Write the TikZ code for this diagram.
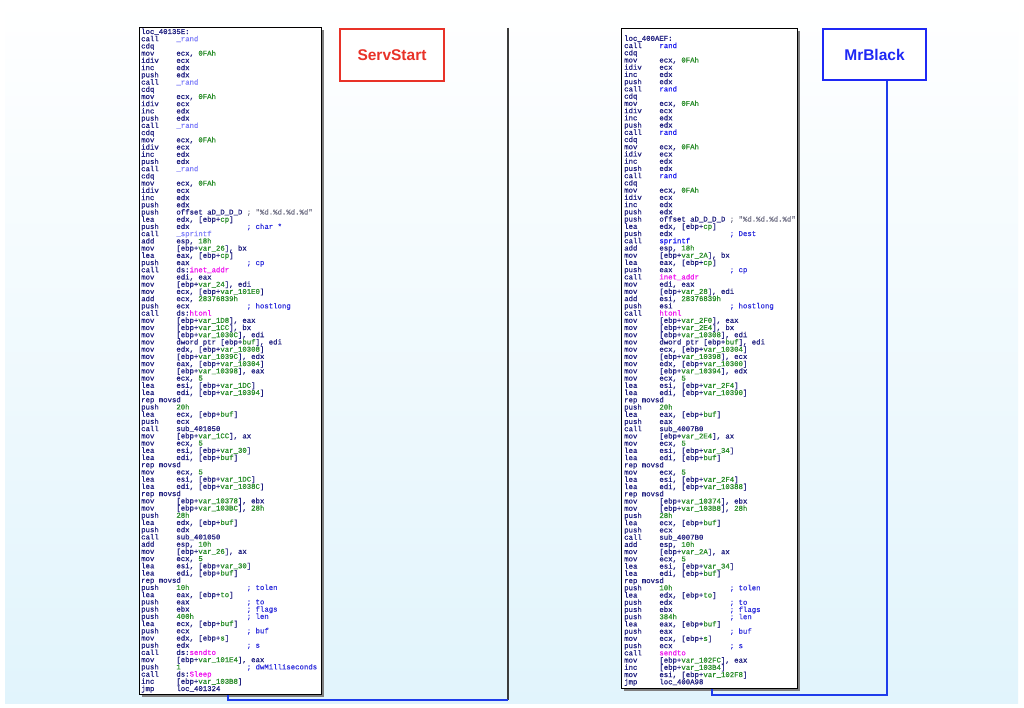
\documentclass[tikz,border=0pt]{standalone}
\usepackage{fontspec}
\usetikzlibrary{shadows}
\setmainfont{Liberation Sans}
\newfontfamily\xmono[FakeBold=0.7]{Liberation Mono}
\newfontfamily\xlabel{Liberation Sans}
\definecolor{insn}{RGB}{32,32,128}
\definecolor{numc}{RGB}{40,140,40}
\definecolor{varc}{RGB}{40,140,40}
\definecolor{cmtc}{RGB}{50,50,220}
\definecolor{libc}{RGB}{128,128,250}
\definecolor{fnc}{RGB}{30,30,240}
\definecolor{impc}{RGB}{240,20,240}
\definecolor{strc}{RGB}{120,120,140}
\definecolor{bgblue}{RGB}{225,244,252}
\definecolor{servred}{RGB}{232,50,40}
\definecolor{blackblue}{RGB}{30,40,245}
\definecolor{edgeblue}{RGB}{30,60,235}
\definecolor{darkedge}{RGB}{60,60,60}
\newlength\xcw
\newcommand\xcode[1]{\xmono\fontsize{7.33pt}{#1}\selectfont\lineskiplimit=-20pt\lineskip=0pt\settowidth\xcw{0}}
\newcommand\xV[1]{\textcolor{varc}{#1}}
\newcommand\xN[1]{\textcolor{numc}{#1}}
\newcommand\xC[1]{\textcolor{cmtc}{#1}}
\newcommand\xS[1]{\textcolor{strc}{#1}}
\newcommand\xF[1]{\textcolor{fnc}{#1}}
\newcommand\xI[1]{\textcolor{impc}{#1}}
\newcommand\xB[1]{\textcolor{libc}{#1}}
\newcommand\xH[1]{\hbox{#1}}
\newcommand\xL[2]{\hbox{\makebox[8\xcw][l]{#1}#2}}
\newcommand\xLc[3]{\hbox{\makebox[8\xcw][l]{#1}\makebox[16\xcw][l]{#2}#3}}
\newcommand\xRand[1]{\xL{call}{#1}\xL{cdq}{}\xL{mov}{ecx, \xN{0FAh}}\xL{idiv}{ecx}\xL{inc}{edx}\xL{push}{edx}}
\tikzset{
  listbox/.style={draw=black, line width=0.7pt, fill=white, inner sep=0pt, anchor=north west,
    drop shadow={shadow xshift=2.5pt, shadow yshift=-2.5pt, fill=black!50, opacity=1}},
  codetext/.style={anchor=base west, inner sep=0pt, text=insn},
  labelbox/.style={line width=2pt, fill=white, inner sep=0pt, font=\xlabel\bfseries\fontsize{15.5pt}{18pt}\selectfont},
  edgeline/.style={draw=edgeblue, line width=1.5pt},
  backline/.style={draw=darkedge, line width=1.6pt}
}
\begin{document}
\begin{tikzpicture}[x=1pt,y=-1pt]
\useasboundingbox (0,0) rectangle (1024,708);
\fill[white] (0,0) rectangle (1024,708);
\shade[top color=white, bottom color=bgblue] (5,0) rectangle (1018,703);

% back connector lines
\coordinate (ltop) at (508,28);
\coordinate (lcorner) at (508,700);
\coordinate (lturn) at (228,700);
\coordinate (rturn) at (712,695);
\coordinate (rcorner) at (887,695);

\draw[backline] (ltop) -- (lcorner);

% listing boxes
\node[listbox, minimum width=182pt, minimum height=667pt] (servbox) at (139,27) {};
\node[listbox, minimum width=176pt, minimum height=660pt] (blackbox) at (621,28) {};

\draw[edgeline] (servbox.south -| lturn) -- (lturn) -- (lcorner);

% label boxes
\node[labelbox, draw=servred, text=servred, minimum width=104pt, minimum height=52pt] (servstart) at (392,55) {ServStart};
\node[labelbox, draw=blackblue, text=blackblue, minimum width=103pt, minimum height=51pt] (mrblack) at (874.5,54.5) {MrBlack};

\draw[edgeline] (blackbox.south -| rturn) -- (rturn) -- (rcorner) -- (mrblack.south -| rcorner);

% left code
\node[codetext] (servcode) at (141,34) {\vtop{\xcode{7.22pt}
\xH{loc\_40135E:}
\xRand{\xB{\_rand}}
\xRand{\xB{\_rand}}
\xRand{\xB{\_rand}}
\xRand{\xB{\_rand}}
\xLc{push}{offset aD\_D\_D\_D}{\xS{; "\%d.\%d.\%d.\%d"}}
\xL{lea}{edx, [ebp+\xV{cp}]}
\xLc{push}{edx}{\xC{; char *}}
\xL{call}{\xB{\_sprintf}}
\xL{add}{esp, \xN{18h}}
\xL{mov}{[ebp+\xV{var\_26}], bx}
\xL{lea}{eax, [ebp+\xV{cp}]}
\xLc{push}{eax}{\xC{; cp}}
\xL{call}{ds:\xI{inet\_addr}}
\xL{mov}{edi, eax}
\xL{mov}{[ebp+\xV{var\_24}], edi}
\xL{mov}{ecx, [ebp+\xV{var\_101E0}]}
\xL{add}{ecx, \xN{28376839h}}
\xLc{push}{ecx}{\xC{; hostlong}}
\xL{call}{ds:\xI{htonl}}
\xL{mov}{[ebp+\xV{var\_1D8}], eax}
\xL{mov}{[ebp+\xV{var\_1CC}], bx}
\xL{mov}{[ebp+\xV{var\_1030C}], edi}
\xL{mov}{dword ptr [ebp+\xV{buf}], edi}
\xL{mov}{edx, [ebp+\xV{var\_10308}]}
\xL{mov}{[ebp+\xV{var\_1039C}], edx}
\xL{mov}{eax, [ebp+\xV{var\_10304}]}
\xL{mov}{[ebp+\xV{var\_10398}], eax}
\xL{mov}{ecx, \xN{5}}
\xL{lea}{esi, [ebp+\xV{var\_1DC}]}
\xL{lea}{edi, [ebp+\xV{var\_10394}]}
\xL{rep movsd}{}
\xL{push}{\xN{20h}}
\xL{lea}{ecx, [ebp+\xV{buf}]}
\xL{push}{ecx}
\xL{call}{sub\_401050}
\xL{mov}{[ebp+\xV{var\_1CC}], ax}
\xL{mov}{ecx, \xN{5}}
\xL{lea}{esi, [ebp+\xV{var\_30}]}
\xL{lea}{edi, [ebp+\xV{buf}]}
\xL{rep movsd}{}
\xL{mov}{ecx, \xN{5}}
\xL{lea}{esi, [ebp+\xV{var\_1DC}]}
\xL{lea}{edi, [ebp+\xV{var\_1038C}]}
\xL{rep movsd}{}
\xL{mov}{[ebp+\xV{var\_10378}], ebx}
\xL{mov}{[ebp+\xV{var\_103BC}], \xN{28h}}
\xL{push}{\xN{28h}}
\xL{lea}{edx, [ebp+\xV{buf}]}
\xL{push}{edx}
\xL{call}{sub\_401050}
\xL{add}{esp, \xN{10h}}
\xL{mov}{[ebp+\xV{var\_26}], ax}
\xL{mov}{ecx, \xN{5}}
\xL{lea}{esi, [ebp+\xV{var\_30}]}
\xL{lea}{edi, [ebp+\xV{buf}]}
\xL{rep movsd}{}
\xLc{push}{\xN{10h}}{\xC{; tolen}}
\xL{lea}{eax, [ebp+\xV{to}]}
\xLc{push}{eax}{\xC{; to}}
\xLc{push}{ebx}{\xC{; flags}}
\xLc{push}{\xN{400h}}{\xC{; len}}
\xL{lea}{ecx, [ebp+\xV{buf}]}
\xLc{push}{ecx}{\xC{; buf}}
\xL{mov}{edx, [ebp+\xV{s}]}
\xLc{push}{edx}{\xC{; s}}
\xL{call}{ds:\xI{sendto}}
\xL{mov}{[ebp+\xV{var\_101E4}], eax}
\xLc{push}{\xN{1}}{\xC{; dwMilliseconds}}
\xL{call}{ds:\xI{Sleep}}
\xL{inc}{[ebp+\xV{var\_103B8}]}
\xL{jmp}{loc\_401324}
}};

% right code
\node[codetext] (blackcode) at (624,40.8) {\vtop{\xcode{7.23pt}
\xH{loc\_400AEF:}
\xRand{\xF{rand}}
\xRand{\xF{rand}}
\xRand{\xF{rand}}
\xRand{\xF{rand}}
\xLc{push}{offset aD\_D\_D\_D}{\xS{; "\%d.\%d.\%d.\%d"}}
\xL{lea}{edx, [ebp+\xV{cp}]}
\xLc{push}{edx}{\xC{; Dest}}
\xL{call}{\xF{sprintf}}
\xL{add}{esp, \xN{18h}}
\xL{mov}{[ebp+\xV{var\_2A}], bx}
\xL{lea}{eax, [ebp+\xV{cp}]}
\xLc{push}{eax}{\xC{; cp}}
\xL{call}{\xI{inet\_addr}}
\xL{mov}{edi, eax}
\xL{mov}{[ebp+\xV{var\_28}], edi}
\xL{add}{esi, \xN{28376839h}}
\xLc{push}{esi}{\xC{; hostlong}}
\xL{call}{\xI{htonl}}
\xL{mov}{[ebp+\xV{var\_2F0}], eax}
\xL{mov}{[ebp+\xV{var\_2E4}], bx}
\xL{mov}{[ebp+\xV{var\_10308}], edi}
\xL{mov}{dword ptr [ebp+\xV{buf}], edi}
\xL{mov}{ecx, [ebp+\xV{var\_10304}]}
\xL{mov}{[ebp+\xV{var\_10398}], ecx}
\xL{mov}{edx, [ebp+\xV{var\_10300}]}
\xL{mov}{[ebp+\xV{var\_10394}], edx}
\xL{mov}{ecx, \xN{5}}
\xL{lea}{esi, [ebp+\xV{var\_2F4}]}
\xL{lea}{edi, [ebp+\xV{var\_10390}]}
\xL{rep movsd}{}
\xL{push}{\xN{20h}}
\xL{lea}{eax, [ebp+\xV{buf}]}
\xL{push}{eax}
\xL{call}{sub\_4007B0}
\xL{mov}{[ebp+\xV{var\_2E4}], ax}
\xL{mov}{ecx, \xN{5}}
\xL{lea}{esi, [ebp+\xV{var\_34}]}
\xL{lea}{edi, [ebp+\xV{buf}]}
\xL{rep movsd}{}
\xL{mov}{ecx, \xN{5}}
\xL{lea}{esi, [ebp+\xV{var\_2F4}]}
\xL{lea}{edi, [ebp+\xV{var\_10388}]}
\xL{rep movsd}{}
\xL{mov}{[ebp+\xV{var\_10374}], ebx}
\xL{mov}{[ebp+\xV{var\_103B8}], \xN{28h}}
\xL{push}{\xN{28h}}
\xL{lea}{ecx, [ebp+\xV{buf}]}
\xL{push}{ecx}
\xL{call}{sub\_4007B0}
\xL{add}{esp, \xN{10h}}
\xL{mov}{[ebp+\xV{var\_2A}], ax}
\xL{mov}{ecx, \xN{5}}
\xL{lea}{esi, [ebp+\xV{var\_34}]}
\xL{lea}{edi, [ebp+\xV{buf}]}
\xL{rep movsd}{}
\xLc{push}{\xN{10h}}{\xC{; tolen}}
\xL{lea}{edx, [ebp+\xV{to}]}
\xLc{push}{edx}{\xC{; to}}
\xLc{push}{ebx}{\xC{; flags}}
\xLc{push}{\xN{384h}}{\xC{; len}}
\xL{lea}{eax, [ebp+\xV{buf}]}
\xLc{push}{eax}{\xC{; buf}}
\xL{mov}{ecx, [ebp+\xV{s}]}
\xLc{push}{ecx}{\xC{; s}}
\xL{call}{\xI{sendto}}
\xL{mov}{[ebp+\xV{var\_102FC}], eax}
\xL{inc}{[ebp+\xV{var\_103B4}]}
\xL{mov}{esi, [ebp+\xV{var\_102F8}]}
\xL{jmp}{loc\_400A98}
}};
\end{tikzpicture}
\end{document}
